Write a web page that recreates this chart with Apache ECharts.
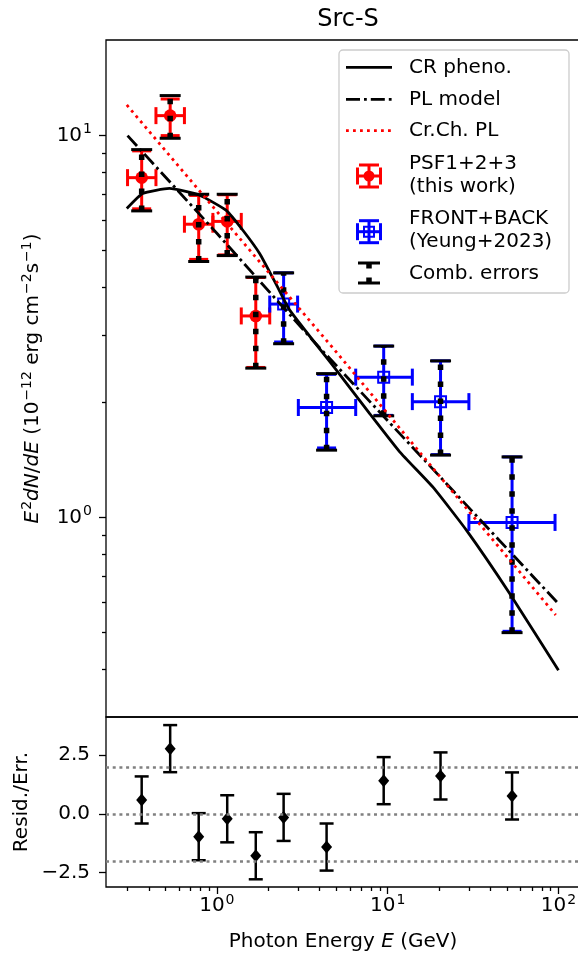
<!DOCTYPE html>
<html>
<head>
<meta charset="utf-8">
<title>Src-S</title>
<script src="https://cdn.jsdelivr.net/npm/echarts@6.0.0/dist/echarts.min.js"></script>
<style>
  html, body { margin: 0; padding: 0; background: #fff; }
  #chart { width: 578px; height: 957px; }
</style>
</head>
<body>
<div id="chart"></div>
<script>
// PSF1+2+3 (this work): bin centre, bin edges, flux and stat. errors (1e-12 erg cm-2 s-1)
const psfE = [0.363, 0.533, 0.783, 1.15, 1.69]
const psfElo = [0.3, 0.44, 0.646, 0.948, 1.39]
const psfEhi = [0.44, 0.646, 0.948, 1.39, 2.04]
const psfF = [7.76, 11.28, 5.86, 5.96, 3.37]
const psfFlo = [6.43, 10.0, 4.74, 4.87, 2.47]
const psfFhi = [9.12, 12.47, 6.97, 7.0, 4.25]

// FRONT+BACK (Yeung+2023)
const fbE = [2.46, 4.39, 9.48, 20.4, 53.5]
const fbElo = [2.04, 3.0, 6.5, 13.95, 29.9]
const fbEhi = [2.97, 6.5, 13.95, 29.9, 95.5]
const fbF = [3.62, 1.94, 2.33, 2.01, 0.97]
const fbFlo = [2.88, 1.52, 1.85, 1.46, 0.503]
const fbFhi = [4.37, 2.37, 2.81, 2.57, 1.44]

// combined errors, psf points first then front+back points
const combLo = [6.35, 9.84, 4.68, 4.85, 2.46, 2.85, 1.50, 1.845, 1.456, 0.499]
const combHi = [9.19, 12.73, 7.02, 7.02, 4.26, 4.37, 2.38, 2.81, 2.57, 1.44]

// model curves
const crE = [0.297, 0.368, 0.528, 0.792, 1.135, 1.42, 1.78, 2.23, 2.67, 5.01, 7.85, 11.76, 18.42, 28.9, 51.8, 100]
const crF = [6.44, 7.05, 7.27, 6.98, 6.37, 5.65, 4.91, 4.07, 3.49, 2.43, 1.87, 1.485, 1.20, 0.926, 0.632, 0.398]
const plE = [0.3, 1.0, 3.64, 100]
const plF = [10.0, 5.55, 2.91, 0.594]
const ccE = [0.297, 1.24, 5.01, 20.2, 96.4]
const ccF = [12.03, 5.65, 2.71, 1.28, 0.555]

// residuals / error
const resid = [0.59, 2.77, -0.97, -0.21, -1.78, -0.15, -1.41, 1.41, 1.61, 0.76]
const residErr = [1, 1, 1, 1, 1, 1, 1, 1, 1, 1]
const residLines = [2, 0, -2]

// axes (energy and flux axes are logarithmic)
const xMin = 0.2244
const xMax = 133.7
const yMin = 0.3
const yMax = 17.8
const rMin = -3.107
const rMax = 4.114
const xMajor = [1, 10, 100]
const xMinor = [0.3, 0.4, 0.5, 0.6, 0.7, 0.8, 0.9, 2, 3, 4, 5, 6, 7, 8, 9, 20, 30, 40, 50, 60, 70, 80, 90]
const yMajor = [1, 10]
const yMinor = [0.4, 0.5, 0.6, 0.7, 0.8, 0.9, 2, 3, 4, 5, 6, 7, 8, 9]
const rTicks = [-2.5, 0, 2.5]

const FONT = 'DejaVu Sans'
const lg = Math.log10
const supRich = {
  s: { fontSize: 14, verticalAlign: 'bottom', padding: [0, 0, 12, 1] },
  i: { fontStyle: 'italic' }
}
const pow10 = v => '10{s|' + Math.round(v) + '}'
const tickStyle = { color: '#000', width: 1.3 }
const noLine = { show: false, onZero: false }

const allE = psfE.concat(fbE)

function pairs(xs, ys) {
  return xs.map((x, i) => [lg(x), lg(ys[i])])
}

function line(x1, y1, x2, y2, style) {
  return { type: 'line', shape: { x1, y1, x2, y2 }, style }
}

// error bar cross with caps plus a marker
function barRender(color, marker) {
  return function (params, api) {
    const f = api.value(1)
    const c = api.coord([api.value(0), f])
    const xl = api.coord([api.value(2), f])[0]
    const xh = api.coord([api.value(3), f])[0]
    const yl = api.coord([api.value(0), api.value(4)])[1]
    const yh = api.coord([api.value(0), api.value(5)])[1]
    const st = { stroke: color, lineWidth: 3 }
    const kids = [
      line(xl, c[1], xh, c[1], st),
      line(c[0], yl, c[0], yh, st),
      line(xl, c[1] - 8.5, xl, c[1] + 8.5, st),
      line(xh, c[1] - 8.5, xh, c[1] + 8.5, st),
      line(c[0] - 9.5, yl, c[0] + 9.5, yl, st),
      line(c[0] - 9.5, yh, c[0] + 9.5, yh, st)
    ]
    if (marker === 'circle') {
      kids.push({ type: 'circle', shape: { cx: c[0], cy: c[1], r: 6.3 }, style: { fill: color } })
    } else {
      kids.push({ type: 'rect', shape: { x: c[0] - 5.5, y: c[1] - 5.5, width: 11, height: 11 }, style: { fill: 'none', stroke: color, lineWidth: 2 } })
    }
    return { type: 'group', children: kids }
  }
}

function combRender(params, api) {
  const e = api.value(0)
  const yl = api.coord([e, api.value(1)])
  const yh = api.coord([e, api.value(2)])
  const cap = { stroke: '#000', lineWidth: 3 }
  return {
    type: 'group',
    children: [
      line(yl[0], yl[1], yh[0], yh[1], { stroke: '#000', lineWidth: 5.5, lineDash: [5.5, 11.5], lineCap: 'butt' }),
      line(yl[0] - 10.5, yl[1], yl[0] + 10.5, yl[1], cap),
      line(yh[0] - 10.5, yh[1], yh[0] + 10.5, yh[1], cap)
    ]
  }
}

function residRender(params, api) {
  const e = api.value(0)
  const v = api.value(1)
  const err = api.value(2)
  const c = api.coord([e, v])
  const lo = api.coord([e, v - err])[1]
  const hi = api.coord([e, v + err])[1]
  const st = { stroke: '#000', lineWidth: 2.5 }
  return {
    type: 'group',
    children: [
      line(c[0], lo, c[0], hi, st),
      line(c[0] - 7, lo, c[0] + 7, lo, st),
      line(c[0] - 7, hi, c[0] + 7, hi, st),
      {
        type: 'polygon',
        shape: { points: [[c[0], c[1] - 6.5], [c[0] + 5.5, c[1]], [c[0], c[1] + 6.5], [c[0] - 5.5, c[1]]] },
        style: { fill: '#000' }
      }
    ]
  }
}

// legend, drawn by hand to get the matplotlib error bar handles
const txt = (text, x, y) => ({
  type: 'text', x, y,
  style: { text, fill: '#000', font: '20px "' + FONT + '"', verticalAlign: 'middle', align: 'left' }
})
const redSt = { stroke: '#ff0000', lineWidth: 3 }
const blueSt = { stroke: '#0000ff', lineWidth: 3 }
const blkSt = { stroke: '#000', lineWidth: 3 }
function legendBar(cy, st) {
  return [
    line(18.5, cy, 41.5, cy, st),
    line(30, cy - 11, 30, cy + 11, st),
    line(18.5, cy - 8.5, 18.5, cy + 8.5, st),
    line(41.5, cy - 8.5, 41.5, cy + 8.5, st),
    line(20, cy - 11, 40, cy - 11, st),
    line(20, cy + 11, 40, cy + 11, st)
  ]
}
const legendKids = [
  { type: 'rect', shape: { x: 0, y: 0, width: 230, height: 243, r: 4 }, style: { fill: 'rgba(255,255,255,0.8)', stroke: '#cccccc', lineWidth: 1.3 } },
  line(7, 17.3, 53, 17.3, { stroke: '#000', lineWidth: 2.8 }),
  line(7, 49.3, 53, 49.3, { stroke: '#000', lineWidth: 2.8, lineDash: [14, 4, 2.8, 4] }),
  line(7, 80.7, 53, 80.7, { stroke: '#ff0000', lineWidth: 2.8, lineDash: [2.8, 4.2] }),
  ...legendBar(126, redSt),
  { type: 'circle', shape: { cx: 30, cy: 126, r: 5.5 }, style: { fill: '#ff0000' } },
  ...legendBar(181.7, blueSt),
  { type: 'rect', shape: { x: 25, y: 176.7, width: 10, height: 10 }, style: { fill: 'none', stroke: '#0000ff', lineWidth: 2 } },
  line(30, 233, 30, 213, { stroke: '#000', lineWidth: 5.5, lineDash: [5.5, 9] }),
  line(19, 213, 41, 213, blkSt),
  line(19, 233, 41, 233, blkSt),
  txt('CR pheno.', 70, 17.3),
  txt('PL model', 70, 49.3),
  txt('Cr.Ch. PL', 70, 80.7),
  txt('PSF1+2+3', 70, 114),
  txt('(this work)', 70, 136.7),
  txt('FRONT+BACK', 70, 168.3),
  txt('(Yeung+2023)', 70, 191.7),
  txt('Comb. errors', 70, 223.3)
]

const chart = echarts.init(document.getElementById('chart'))

chart.setOption({
  animation: false,
  backgroundColor: '#fff',
  textStyle: { fontFamily: FONT, color: '#000' },
  title: {
    text: 'Src-S',
    left: 343,
    top: 3,
    textAlign: 'center',
    textStyle: { fontFamily: FONT, fontSize: 24, fontWeight: 'normal', color: '#000' }
  },
  grid: [
    { left: 106, top: 40, width: 474, height: 677, show: true, borderColor: '#000', borderWidth: 1.3, backgroundColor: 'transparent', outerBoundsMode: 'none' },
    { left: 106, top: 717, width: 474, height: 170, show: true, borderColor: '#000', borderWidth: 1.3, backgroundColor: 'transparent', outerBoundsMode: 'none' }
  ],
  xAxis: [
    {
      gridIndex: 0, type: 'value', position: 'bottom', min: lg(xMin), max: lg(xMax),
      axisLine: noLine, axisTick: { show: false }, axisLabel: { show: false }, splitLine: { show: false }
    },
    {
      gridIndex: 1, type: 'value', position: 'bottom', min: lg(xMin), max: lg(xMax),
      axisLine: noLine, splitLine: { show: false },
      axisTick: { show: true, length: 7, lineStyle: tickStyle, customValues: xMajor.map(lg) },
      axisLabel: { customValues: xMajor.map(lg), formatter: pow10, fontSize: 20, color: '#000', margin: 6, rich: supRich },
      name: 'Photon Energy {i|E} (GeV)', nameLocation: 'middle', nameGap: 45, nameMoveOverlap: false,
      nameTextStyle: { fontSize: 20, color: '#000', rich: supRich }
    },
    {
      gridIndex: 1, type: 'value', position: 'bottom', min: lg(xMin), max: lg(xMax),
      axisLine: noLine, splitLine: { show: false }, axisLabel: { show: false },
      axisTick: { show: true, length: 4, lineStyle: tickStyle, customValues: xMinor.map(lg) }
    }
  ],
  yAxis: [
    {
      gridIndex: 0, type: 'value', position: 'left', min: lg(yMin), max: lg(yMax),
      axisLine: noLine, splitLine: { show: false },
      axisTick: { show: true, length: 7, lineStyle: tickStyle, customValues: yMajor.map(lg) },
      axisLabel: { customValues: yMajor.map(lg), formatter: pow10, fontSize: 20, color: '#000', margin: 14, rich: supRich },
      name: '{i|E}{s|2}{i|dN}/{i|dE} (10{s|\u221212} erg cm{s|\u22122}s{s|\u22121})',
      nameLocation: 'middle', nameRotate: 90, nameGap: 60, nameMoveOverlap: false,
      nameTextStyle: { fontSize: 20, color: '#000', rich: supRich }
    },
    {
      gridIndex: 0, type: 'value', position: 'left', min: lg(yMin), max: lg(yMax),
      axisLine: noLine, splitLine: { show: false }, axisLabel: { show: false },
      axisTick: { show: true, length: 4, lineStyle: tickStyle, customValues: yMinor.map(lg) }
    },
    {
      gridIndex: 1, type: 'value', position: 'left', min: rMin, max: rMax,
      axisLine: noLine, splitLine: { show: false },
      axisTick: { show: true, length: 7, lineStyle: tickStyle, customValues: rTicks },
      axisLabel: {
        customValues: rTicks, fontSize: 20, color: '#000', margin: 16,
        formatter: v => (v < 0 ? '\u2212' : '') + Math.abs(v).toFixed(1)
      },
      name: 'Resid./Err.', nameLocation: 'middle', nameRotate: 90, nameGap: 74, nameMoveOverlap: false,
      nameTextStyle: { fontSize: 20, color: '#000' }
    }
  ],
  series: [
    // empty series so the minor-tick axes are bound to a cartesian
    { type: 'line', xAxisIndex: 0, yAxisIndex: 1, data: [] },
    { type: 'line', xAxisIndex: 2, yAxisIndex: 2, data: [] },
    {
      name: 'CR pheno.', type: 'line', xAxisIndex: 0, yAxisIndex: 0, showSymbol: false, smooth: 0.15,
      lineStyle: { color: '#000', width: 2.8 }, data: pairs(crE, crF)
    },
    {
      name: 'PL model', type: 'line', xAxisIndex: 0, yAxisIndex: 0, showSymbol: false,
      lineStyle: { color: '#000', width: 2.8, type: [14, 4, 2.8, 4] }, data: pairs(plE, plF)
    },
    {
      name: 'Cr.Ch. PL', type: 'line', xAxisIndex: 0, yAxisIndex: 0, showSymbol: false,
      lineStyle: { color: '#ff0000', width: 2.8, type: [2.8, 4.2] }, data: pairs(ccE, ccF)
    },
    {
      name: 'PSF1+2+3', type: 'custom', xAxisIndex: 0, yAxisIndex: 0,
      renderItem: barRender('#ff0000', 'circle'),
      data: psfE.map((e, i) => [e, psfF[i], psfElo[i], psfEhi[i], psfFlo[i], psfFhi[i]].map(lg))
    },
    {
      name: 'FRONT+BACK', type: 'custom', xAxisIndex: 0, yAxisIndex: 0,
      renderItem: barRender('#0000ff', 'square'),
      data: fbE.map((e, i) => [e, fbF[i], fbElo[i], fbEhi[i], fbFlo[i], fbFhi[i]].map(lg))
    },
    {
      name: 'Comb. errors', type: 'custom', xAxisIndex: 0, yAxisIndex: 0,
      renderItem: combRender,
      data: allE.map((e, i) => [e, combLo[i], combHi[i]].map(lg))
    },
    {
      name: 'levels', type: 'line', xAxisIndex: 1, yAxisIndex: 2, data: [],
      markLine: {
        silent: true, symbol: ['none', 'none'], label: { show: false },
        lineStyle: { color: '#808080', width: 2.5, type: [3, 3.7] },
        data: residLines.map(v => ({ yAxis: v }))
      }
    },
    {
      name: 'Resid./Err.', type: 'custom', xAxisIndex: 1, yAxisIndex: 2,
      renderItem: residRender,
      data: allE.map((e, i) => [lg(e), resid[i], residErr[i]])
    }
  ],
  graphic: [
    { type: 'group', x: 339, y: 50, z: 100, children: legendKids }
  ]
})
</script>
</body>
</html>
